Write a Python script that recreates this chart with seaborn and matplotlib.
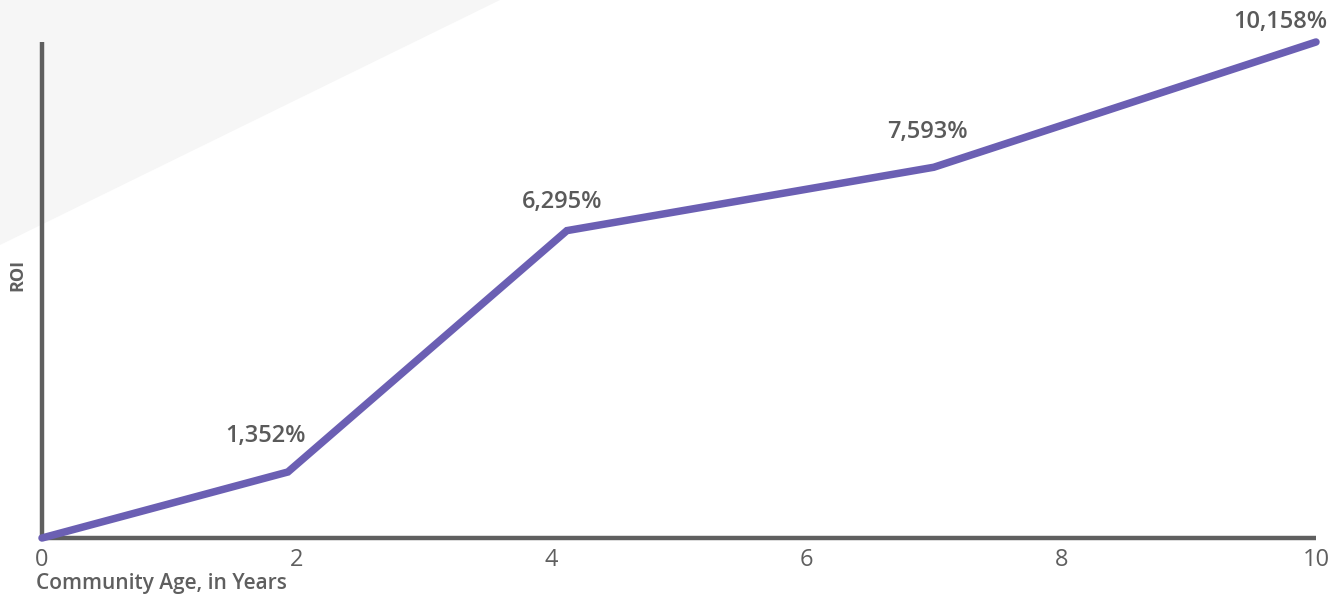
import matplotlib.pyplot as plt
import pandas as pd
import seaborn as sns
from matplotlib.patches import Polygon

# Data
years = [0, 1.93, 4.12, 7.0, 10]
roi = [0, 1352, 6295, 7593, 10158]
roi_labels = ['', '1,352%', '6,295%', '7,593%', '10,158%']
label_offsets = [(0, 0), (-22, 36), (-5, 29), (-6, 35), (-36, 20)]
x_ticks = [0, 2, 4, 6, 8, 10]

df = pd.DataFrame({'year': years, 'roi': roi})

sns.set_theme(style='white')
plt.rcParams['font.family'] = ['Open Sans', 'DejaVu Sans']

line_color = '#6b5fb3'
axis_color = '#5f5f5f'
text_color = '#5a5a5a'

fig = plt.figure(figsize=(13.4, 5.96), dpi=100)
# light grey decoration in the top left corner
fig.patches.append(Polygon([(0, 1), (500 / 1340, 1), (0, 1 - 245 / 596)],
                           closed=True, transform=fig.transFigure,
                           facecolor='#f6f6f6', edgecolor='none', zorder=0))

ax = fig.add_axes([42 / 1340, 1 - 538 / 596, 1274 / 1340, 496 / 596])
ax.set_zorder(2)
ax.patch.set_alpha(0)

sns.lineplot(data=df, x='year', y='roi', ax=ax, color=line_color,
             linewidth=5.4, solid_capstyle='round', solid_joinstyle='miter',
             clip_on=False, zorder=3)

for x, y, lab, (dx, dy) in zip(years, roi, roi_labels, label_offsets):
    if lab:
        ax.annotate(lab, (x, y), xytext=(dx * 0.72, dy * 0.72),
                    textcoords='offset points', ha='center', va='center',
                    fontsize=17, fontweight='semibold', color=text_color)

ax.set_xlim(0, 10)
ax.set_ylim(0, 10158)
ax.set_xticks(x_ticks)
ax.set_xticklabels([str(t) for t in x_ticks])
ax.set_yticks([])
ax.tick_params(axis='x', length=0, pad=7, labelsize=17, labelcolor=axis_color)

sns.despine(ax=ax)
for side in ['left', 'bottom']:
    ax.spines[side].set_color(axis_color)
    ax.spines[side].set_linewidth(3.2)
    ax.spines[side].set_capstyle('butt')

ax.set_xlabel('Community Age, in Years', loc='left', fontsize=15,
              fontweight='semibold', color=axis_color)
ax.xaxis.set_label_coords(-0.005, -0.07)
ax.set_ylabel('ROI', fontsize=13, fontweight='bold', color=axis_color)
ax.yaxis.set_label_coords(-0.012, 0.53)

fig.savefig('out.png', dpi=100)
